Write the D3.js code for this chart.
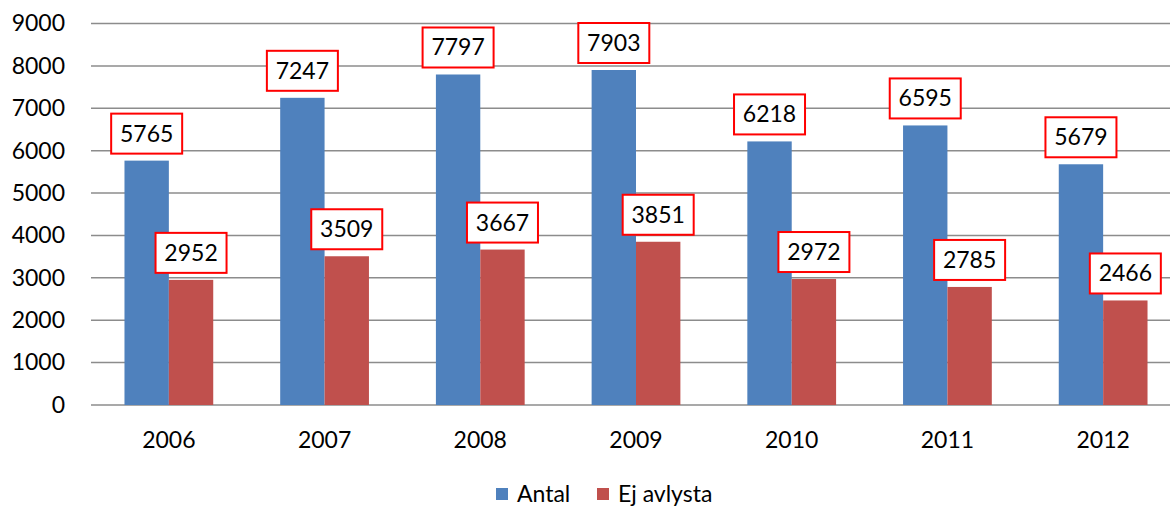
<!DOCTYPE html>
<html>
<head>
<meta charset="utf-8">
<script src="https://cdn.jsdelivr.net/npm/d3@7"></script>
<style>
   body { margin: 0; background: #fff; }
   svg { display: block; font-family: Lato, 'Open Sans', sans-serif; }
</style>
</head>
<body>
<div id="chart"></div>
<script>

// CHART DATA
var years = ['2006', '2007', '2008', '2009', '2010', '2011', '2012'];
var antal = [5765, 7247, 7797, 7903, 6218, 6595, 5679];
var ejAvlysta = [2952, 3509, 3667, 3851, 2972, 2785, 2466];
var seriesNames = ['Antal', 'Ej avlysta'];
var yTicks = [0, 1000, 2000, 3000, 4000, 5000, 6000, 7000, 8000, 9000];

// SETTINGS
var settings = {
   width: 1170,
   height: 508,
   left: 91,
   right: 1181,
   top: 23.5,
   bottom: 405,
   colors: ['#4F81BD', '#C0504D'],
   grid: '#8c8c8c',
   font: 23
};

// CANVAS
var canvas = d3.select('#chart').append('svg')
   .attr('width', settings.width)
   .attr('height', settings.height);

// X-SCALING
var xScale = d3.scaleBand()
   .domain(years)
   .range([settings.left, settings.right])
   .paddingInner(0.43)
   .paddingOuter(0.215);

// INNER SCALE FOR SERIES
var xInner = d3.scaleBand()
   .domain([0, 1])
   .range([0, xScale.bandwidth()]);

// Y-SCALING
var yScale = d3.scaleLinear()
   .domain([0, 9000])
   .range([settings.bottom, settings.top]);

// GRIDLINES
canvas.append('g')
   .selectAll('line')
   .data(yTicks)
   .enter().append('line')
      .attr('x1', settings.left)
      .attr('x2', settings.right)
      .attr('y1', d => yScale(d))
      .attr('y2', d => yScale(d))
      .attr('stroke', settings.grid)
      .attr('stroke-width', 1.5);

// Y AXIS LABELS
var yAxis = canvas.append('g')
   .attr('transform', 'translate(' + (settings.left - 26) + ',0)')
   .call(d3.axisLeft(yScale).tickValues(yTicks).tickFormat(d3.format('d')).tickSize(0).tickPadding(0));

yAxis.select('.domain').remove();
yAxis.selectAll('text')
   .attr('font-size', settings.font)
   .attr('fill', '#000')
   .attr('font-family', 'Lato, sans-serif');

// X AXIS LABELS
var xAxis = canvas.append('g')
   .attr('transform', 'translate(0,' + settings.bottom + ')')
   .call(d3.axisBottom(xScale).tickSize(0).tickPadding(27));

xAxis.select('.domain').remove();
xAxis.selectAll('text')
   .attr('font-size', settings.font)
   .attr('fill', '#000')
   .attr('font-family', 'Lato, sans-serif');

// SERIES LOOP
var allSeries = [antal, ejAvlysta];

allSeries.forEach((values, s) => {

   var group = canvas.append('g');

   // ADD BARS
   group.selectAll('rect')
      .data(values)
      .enter().append('rect')
         .attr('x', (d, i) => xScale(years[i]) + xInner(s))
         .attr('y', d => yScale(d))
         .attr('width', xInner.bandwidth())
         .attr('height', d => yScale(0) - yScale(d))
         .attr('fill', settings.colors[s]);

   // ADD LABEL BOXES
   var labels = group.selectAll('g.label')
      .data(values)
      .enter().append('g')
         .attr('class', 'label')
         .attr('transform', (d, i) => 'translate(' + (xScale(years[i]) + xInner(s) + xInner.bandwidth() / 2) + ',' + (yScale(d) - 7) + ')');

   labels.append('rect')
      .attr('x', -35.5)
      .attr('y', -40)
      .attr('width', 71)
      .attr('height', 40)
      .attr('fill', '#fff')
      .attr('stroke', '#ff0000')
      .attr('stroke-width', 2);

   labels.append('text')
      .attr('y', -12)
      .attr('text-anchor', 'middle')
      .attr('font-size', settings.font)
      .attr('fill', '#000')
      .text(d => d);
});

// LEGEND
var legend = canvas.append('g')
   .attr('transform', 'translate(496,494)');

var legendX = [0, 101];

seriesNames.forEach((name, s) => {

   var item = legend.append('g')
      .attr('transform', 'translate(' + legendX[s] + ',0)');

   item.append('rect')
      .attr('x', 0)
      .attr('y', -6)
      .attr('width', 12)
      .attr('height', 12)
      .attr('fill', settings.colors[s]);

   item.append('text')
      .attr('x', 21)
      .attr('y', 8)
      .attr('font-size', settings.font)
      .attr('fill', '#000')
      .text(name);
});

</script>
</body>
</html>
